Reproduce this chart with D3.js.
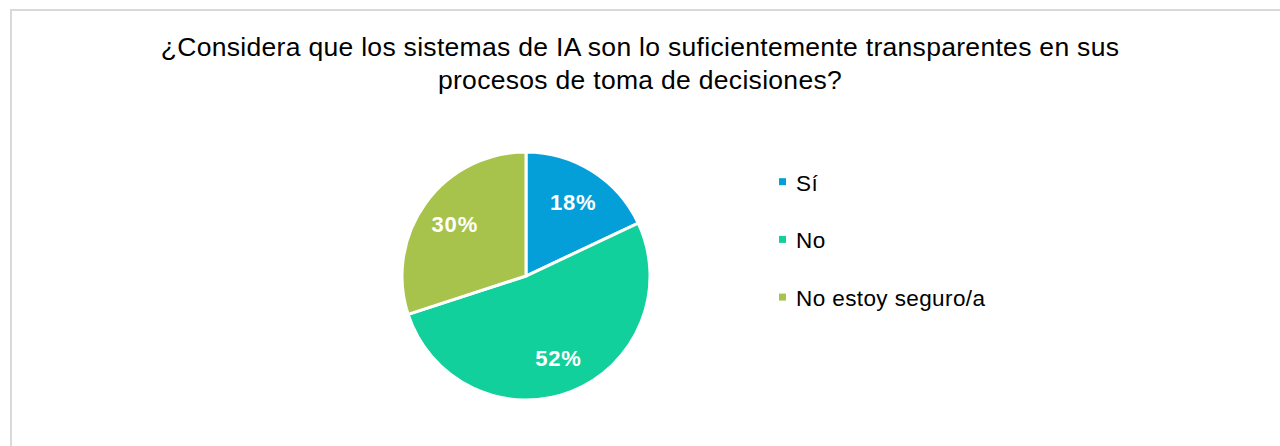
<!DOCTYPE html>
<html>
<head>
<meta charset="utf-8">
<script src="https://cdn.jsdelivr.net/npm/d3@7"></script>
<style>
  body { margin: 0; background: #fff; }
  svg { display: block; }
</style>
</head>
<body>
<svg id="chart" width="1280" height="446"></svg>
<script>
// data
const categories = ['Sí', 'No', 'No estoy seguro/a'];
const values = [18, 52, 30];
const sliceColors = ['#049fd9', '#12d09b', '#a8c34b'];
const titleLines = ['¿Considera que los sistemas de IA son lo suficientemente transparentes en sus',
                    'procesos de toma de decisiones?'];

let svg = d3.select('#chart');
let font = 'Liberation Sans, Arial, sans-serif';

// outer frame
svg.append('rect')
  .attr('x', 11).attr('y', 10)
  .attr('width', 1290).attr('height', 460)
  .attr('fill', 'none')
  .attr('stroke', '#d9d9d9')
  .attr('stroke-width', 2);

// title
svg.append('g').selectAll('text')
  .data(titleLines)
  .enter().append('text')
  .attr('x', 640)
  .attr('y', function (d, i) { return 56 + i * 32.5; })
  .attr('text-anchor', 'middle')
  .attr('font-family', font)
  .attr('font-size', 26.5)
  .attr('letter-spacing', 0.3)
  .attr('fill', '#000')
  .text(function (d) { return d; });

// pie
let cx = 526, cy = 276, radius = 124;
let pie = d3.pie().sort(null).value(function (d) { return d.value; });
let arc = d3.arc().innerRadius(0).outerRadius(radius);
let labelArc = d3.arc().innerRadius(radius * 0.71).outerRadius(radius * 0.71);

let rows = categories.map(function (c, i) { return {name: c, value: values[i], color: sliceColors[i]}; });
let total = d3.sum(values);

let g = svg.append('g').attr('transform', 'translate(' + cx + ',' + cy + ')');

g.selectAll('.slice')
  .data(pie(rows))
  .enter().append('path')
  .attr('class', 'slice')
  .attr('d', arc)
  .attr('fill', function (d) { return d.data.color; })
  .attr('stroke', '#fff')
  .attr('stroke-width', 3);

g.selectAll('.lbl')
  .data(pie(rows))
  .enter().append('text')
  .attr('class', 'lbl')
  .attr('transform', function (d) { return 'translate(' + labelArc.centroid(d) + ')'; })
  .attr('dy', '0.36em')
  .attr('text-anchor', 'middle')
  .attr('font-family', font)
  .attr('font-weight', 'bold')
  .attr('font-size', 22)
  .attr('letter-spacing', 0.8)
  .attr('fill', '#fff')
  .text(function (d) { return Math.round(d.data.value / total * 100) + '%'; });

// legend
let legendX = 779, legendY = 190.7;
let legend = svg.append('g');
rows.forEach(function (r, i) {
  let y = legendY + i * 57.7;
  legend.append('rect')
    .attr('x', legendX).attr('y', y - 12.5)
    .attr('width', 7).attr('height', 7)
    .attr('fill', r.color);
  legend.append('text')
    .attr('x', legendX + 17)
    .attr('y', y)
    .attr('font-family', font)
    .attr('font-size', 22.5)
    .attr('letter-spacing', 0.4)
    .attr('fill', '#000')
    .text(r.name);
});
</script>
</body>
</html>
